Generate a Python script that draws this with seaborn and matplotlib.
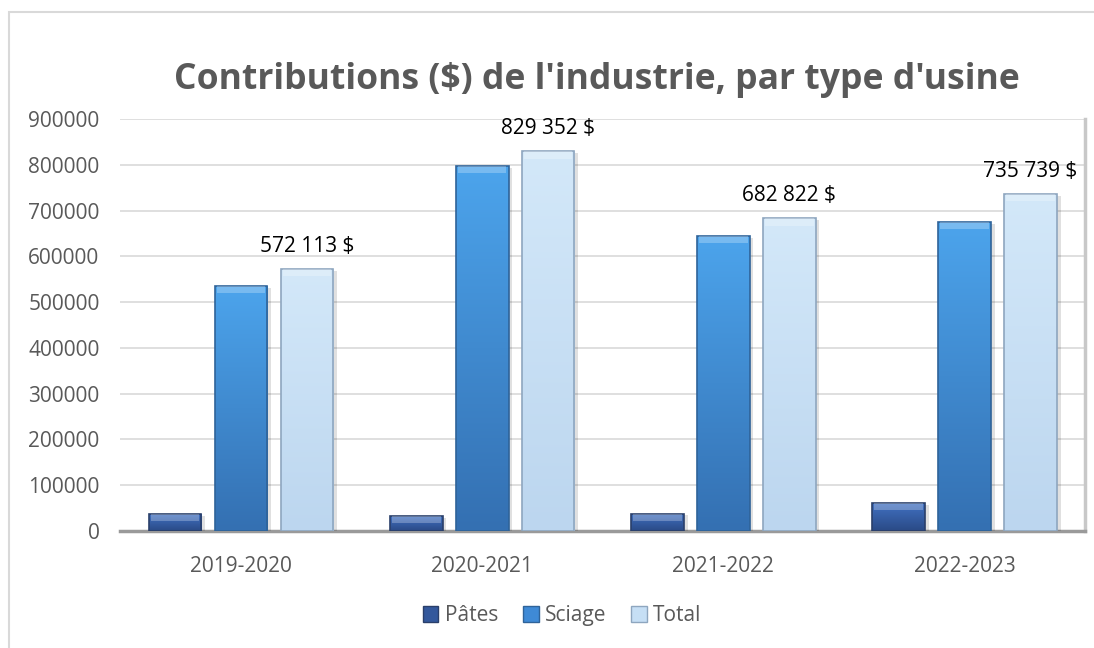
import matplotlib
matplotlib.use('Agg')

import numpy as np
import pandas as pd
import matplotlib.pyplot as plt
import matplotlib.colors as mcolors
from matplotlib.patches import Rectangle
import seaborn as sns

# DATA
periods = ['2019-2020', '2020-2021', '2021-2022', '2022-2023']
pates = [37113, 32352, 37822, 60739]
sciage = [535000, 797000, 645000, 675000]
total = [572113, 829352, 682822, 735739]
series = ['Pâtes', 'Sciage', 'Total']
total_labels = ['572 113 $', '829 352 $', '682 822 $', '735 739 $']

df = pd.DataFrame({
    'periode': periods * 3,
    'type': [s for s in series for _ in periods],
    'valeur': pates + sciage + total,
})

sns.set_style('white')
plt.rcParams['font.family'] = ['Open Sans', 'DejaVu Sans']

palette = {'Pâtes': '#33589c', 'Sciage': '#3f8ad6', 'Total': '#c6dff5'}
tops = {'Pâtes': '#4171c2', 'Sciage': '#4ca4ec', 'Total': '#d3e8f9'}
bottoms = {'Pâtes': '#2a4a86', 'Sciage': '#3470b2', 'Total': '#bcd6ef'}
edges = {'Pâtes': '#2a3f6a', 'Sciage': '#2f6399', 'Total': '#8ea6bf'}

fig = plt.figure(figsize=(10.94, 6.48), dpi=100)
ax = fig.add_axes([0.110, 0.1806, 0.882, 0.6358])

sns.barplot(data=df, x='periode', y='valeur', hue='type', palette=palette,
            hue_order=series, order=periods, width=0.82, gap=0.2,
            ax=ax, legend=True, zorder=3)

ax.set_ylim(0, 900000)
ax.set_yticks(np.arange(0, 900001, 100000))
ax.set_yticklabels([str(v) for v in range(0, 900001, 100000)])
ax.set_xlabel('')
ax.set_ylabel('')
ax.grid(axis='y', color='#d9d9d9', linewidth=1.2, zorder=0)
ax.tick_params(axis='y', labelsize=15, colors='#595959', length=0, pad=15)
ax.tick_params(axis='x', labelsize=15, colors='#595959', length=0, pad=18)

for s in ['top', 'left']:
    ax.spines[s].set_visible(False)
ax.spines['right'].set_color('#c8c8c8')
ax.spines['right'].set_linewidth(2.5)
ax.spines['bottom'].set_color('#9a9a9a')
ax.spines['bottom'].set_linewidth(2.5)

# gradient fill + bevel look
bars = list(ax.patches)
n = len(periods)
for i, p in enumerate(bars[:3 * n]):
    name = series[i // n]
    x0, y0 = p.get_x(), p.get_y()
    w, h = p.get_width(), p.get_height()
    c_top = np.array(mcolors.to_rgb(tops[name]))
    c_bot = np.array(mcolors.to_rgb(bottoms[name]))
    t = np.linspace(0, 1, 64)[:, None]
    grad = (c_top * (1 - t) + c_bot * t)[:, None, :]
    grad = np.repeat(grad, 2, axis=1)
    im = ax.imshow(grad, extent=[x0, x0 + w, y0, y0 + h], aspect='auto',
                   origin='upper', zorder=3.5, interpolation='bicubic')
    im.set_clip_path(p)
    p.set_edgecolor(edges[name])
    p.set_linewidth(1.2)
    p.set_zorder(4)
    p.set_facecolor('none')
    # bevel strip at top
    bh = min(h * 0.5, 16000)
    ax.add_patch(Rectangle((x0 + w * 0.04, y0 + h - bh), w * 0.92, bh,
                           facecolor='white', alpha=0.25, edgecolor='none', zorder=4))
    # shadow
    ax.add_patch(Rectangle((x0 + w * 0.03, y0), w * 1.04, h - 4000,
                           facecolor='#000000', alpha=0.12, edgecolor='none', zorder=3.2))
ax.set_xlim(-0.5, 3.5)
ax.set_ylim(0, 900000)

for i, p in enumerate(bars[2 * n:3 * n]):
    ax.text(p.get_x() + p.get_width() / 2, total[i] + 26000, total_labels[i],
            ha='center', va='bottom', fontsize=15, color='black', zorder=6)

leg = ax.legend(loc='upper center', bbox_to_anchor=(0.458, -0.135), ncol=3,
                frameon=False, fontsize=15, handlelength=0.75, handleheight=0.75,
                columnspacing=1.2, handletextpad=0.3, labelcolor='#595959')
for h, name in zip(leg.legend_handles, series):
    h.set_facecolor(palette[name])
    h.set_edgecolor(edges[name])

fig.text(0.546, 0.877, "Contributions ($) de l'industrie, par type d'usine",
         ha='center', va='center', fontsize=25.6, fontweight='bold', color='#595959')

fig.patches.append(Rectangle((0.008, -0.01), 1.1, 0.992, transform=fig.transFigure,
                             facecolor='none', edgecolor='#d9d9d9', linewidth=1.5))

fig.savefig('out.png', dpi=100)
